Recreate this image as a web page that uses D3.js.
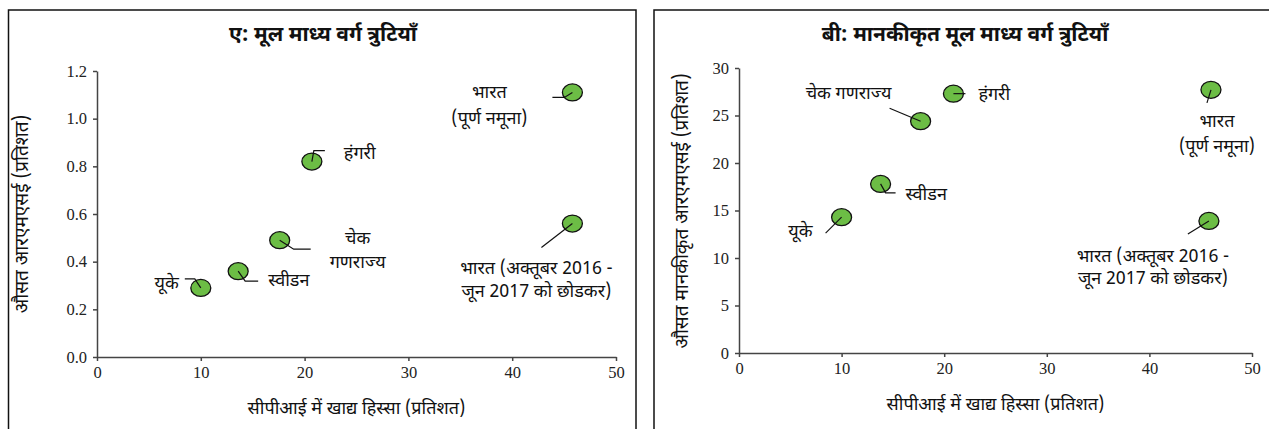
<!DOCTYPE html>
<html>
<head>
<meta charset="utf-8">
<script src="https://cdn.jsdelivr.net/npm/d3@7"></script>
<style>
  body { margin: 0; background: #fff; }
  svg { display: block; }
  .lbl { font-family: "Noto Sans Devanagari", "Noto Sans", sans-serif; font-size: 18px; fill: #111; }
  .ylab { font-size: 19px; }
  .title { font-family: "Noto Sans Devanagari", "Noto Sans", sans-serif; font-size: 21px; font-weight: bold; fill: #111; }
  .tick text { font-family: "Liberation Serif", serif; font-size: 16.5px; fill: #222; }
  .tick line, .domain { stroke: #444; stroke-width: 1.5; }
</style>
</head>
<body>
<svg width="1269" height="429"></svg>
<script>
// data
var countries = ["यूके", "स्वीडन", "चेक गणराज्य", "हंगरी", "भारत (पूर्ण नमूना)", "भारत (अक्तूबर 2016 - जून 2017 को छोडकर)"];
var foodShareA = [10.0, 13.6, 17.6, 20.7, 45.8, 45.8];
var rmseA = [0.29, 0.36, 0.49, 0.82, 1.11, 0.56];
var foodShareB = [10.0, 13.8, 17.7, 20.9, 46.0, 45.8];
var rmseB = [14.3, 17.8, 24.4, 27.3, 27.7, 13.9];
var ticksX = [0, 10, 20, 30, 40, 50];
var ticksA = [0, 0.2, 0.4, 0.6, 0.8, 1.0, 1.2];
var ticksB = [0, 5, 10, 15, 20, 25, 30];

// label text, broken into lines as in each panel
var labelLinesA = [["यूके"], ["स्वीडन"], ["चेक", "गणराज्य"], ["हंगरी"], ["भारत", "(पूर्ण नमूना)"], ["भारत (अक्तूबर 2016 -", "जून 2017 को छोडकर)"]];
var labelLinesB = [["यूके"], ["स्वीडन"], ["चेक गणराज्य"], ["हंगरी"], ["भारत", "(पूर्ण नमूना)"], ["भारत (अक्तूबर 2016 -", "जून 2017 को छोडकर)"]];

// label placement, pixels from the point (layout only)
var placeA = [
    {anchor: "end", dx: -22, dy: [-5], lead: [[0,0],[-6,-9],[-16,-9]]},
    {anchor: "start", dx: 30, dy: [8], lead: [[0,0],[7,10],[20,10]]},
    {anchor: "middle", dx: 78, dy: [-3, 21], lead: [[0,0],[14,9],[31,9]]},
    {anchor: "start", dx: 32, dy: [-9], lead: [[0,0],[2,-11],[13,-11]]},
    {anchor: "middle", dx: -83, dy: [-1, 25], lead: [[0,0],[-8,5],[-20,5]]},
    {anchor: "middle", dx: -36, dy: [44, 67], lead: [[0,0],[-31,24]]}
];
var placeB = [
    {anchor: "end", dx: -29, dy: [14], lead: [[0,0],[-16,16]]},
    {anchor: "start", dx: 25, dy: [10], lead: [[0,0],[5,9],[15,9]]},
    {anchor: "middle", dx: -72, dy: [-29], lead: [[0,0],[-31,-13]]},
    {anchor: "start", dx: 25, dy: [0], lead: [[0,0],[12,0]]},
    {anchor: "middle", dx: 6, dy: [31, 56], lead: [[0,0],[-4,13]]},
    {anchor: "middle", dx: -56, dy: [35, 57], lead: [[0,0],[-21,13]]}
];

var svg = d3.select("svg");

function panel(opt) {
    var g = svg.append("g");

    // frame, cut off at the bottom (and right for panel B)
    g.append("rect")
        .attr("x", opt.box[0]).attr("y", opt.box[1])
        .attr("width", opt.box[2]).attr("height", opt.box[3])
        .attr("fill", "none").attr("stroke", "#111").attr("stroke-width", 1.5);

    g.append("text").attr("class", "title")
        .attr("x", opt.titleX).attr("y", 41)
        .attr("text-anchor", "middle")
        .text(opt.title);

    var x = d3.scaleLinear().domain([0, 50]).range(opt.xr);
    var y = d3.scaleLinear().domain(opt.yd).range(opt.yr);

    g.append("g")
        .attr("transform", "translate(0," + opt.yr[0] + ")")
        .call(d3.axisBottom(x).tickValues(ticksX).tickSize(4).tickSizeOuter(0).tickPadding(5).tickFormat(d3.format("d")));

    g.append("g")
        .attr("transform", "translate(" + opt.xr[0] + ",0)")
        .call(d3.axisLeft(y).tickValues(opt.yt).tickSize(4).tickSizeOuter(0).tickPadding(6).tickFormat(opt.fmt));

    g.selectAll(".domain").attr("stroke", "#444");

    g.append("text").attr("class", "lbl")
        .attr("x", (opt.xr[0] + opt.xr[1]) / 2).attr("y", opt.yr[0] + 57)
        .attr("text-anchor", "middle")
        .text("सीपीआई में खाद्य हिस्सा (प्रतिशत)");

    g.append("text").attr("class", "lbl ylab")
        .attr("transform", "translate(" + opt.ylabX + "," + opt.ylabY + ") rotate(-90)")
        .attr("text-anchor", "middle")
        .text(opt.ylab);

    var pts = opt.xs.map(function(v, i) {
        return {name: countries[i], px: x(v), py: y(opt.ys[i]), lines: opt.lines[i], place: opt.place[i]};
    });

    var line = d3.line();

    // circles first, leader lines drawn over them
    g.selectAll("ellipse.pt")
        .data(pts)
        .enter().append("ellipse")
        .attr("class", "pt")
        .attr("cx", function(d) { return d.px; })
        .attr("cy", function(d) { return d.py; })
        .attr("rx", 10).attr("ry", 8.5)
        .attr("fill", "#6cbd45")
        .attr("stroke", "#111").attr("stroke-width", 1.3);

    g.selectAll("path.lead")
        .data(pts)
        .enter().append("path")
        .attr("class", "lead")
        .attr("d", function(d) {
            return line(d.place.lead.map(function(p) { return [d.px + p[0], d.py + p[1]]; }));
        })
        .attr("fill", "none").attr("stroke", "#111").attr("stroke-width", 1.2);

    pts.forEach(function(d) {
        d.lines.forEach(function(t, k) {
            g.append("text").attr("class", "lbl")
                .attr("x", d.px + d.place.dx)
                .attr("y", d.py + d.place.dy[k])
                .attr("dy", "0.35em")
                .attr("text-anchor", d.place.anchor)
                .text(t);
        });
    });
}

panel({
    box: [8.5, 10, 627.5, 440], title: "ए: मूल माध्य वर्ग त्रुटियाँ", titleX: 323,
    xr: [97, 616], yd: [0, 1.2], yr: [357, 71], yt: ticksA, fmt: d3.format(".1f"),
    ylab: "औसत आरएमएसई (प्रतिशत)", ylabX: 28, ylabY: 214,
    xs: foodShareA, ys: rmseA, lines: labelLinesA, place: placeA
});

panel({
    box: [654, 10, 640, 440], title: "बी: मानकीकृत मूल माध्य वर्ग त्रुटियाँ", titleX: 965,
    xr: [739, 1252], yd: [0, 30], yr: [353, 68], yt: ticksB, fmt: d3.format("d"),
    ylab: "औसत मानकीकृत आरएमएसई (प्रतिशत)", ylabX: 688, ylabY: 211,
    xs: foodShareB, ys: rmseB, lines: labelLinesB, place: placeB
});
</script>
</body>
</html>
